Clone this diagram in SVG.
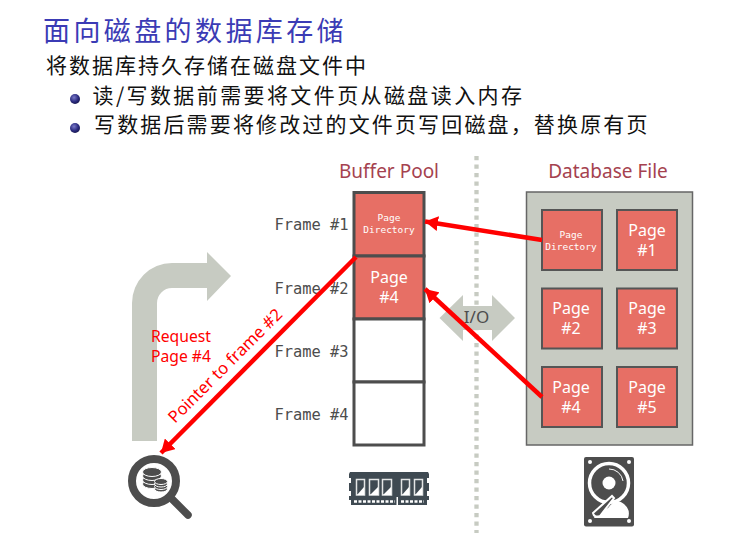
<svg xmlns="http://www.w3.org/2000/svg" width="749" height="543" viewBox="0 0 749 543">
<defs>
<style>
.cjk{font-family:"Noto Sans CJK SC",sans-serif;}
.head{font-family:"Noto Sans","Liberation Sans",sans-serif;font-size:19px;fill:#a5424f;text-anchor:middle;}
.frm{font-family:"DejaVu Sans Mono",monospace;font-size:15.400px;fill:#4d4d4d;}
.slot{fill:#fff;stroke:#4d4d4d;stroke-width:3;}
.hot{fill:#e76f65;}
.page{fill:#e76f65;stroke:#555;stroke-width:2;}
.big{font-family:"Noto Sans","Liberation Sans",sans-serif;font-size:16px;fill:#fff;text-anchor:middle;}
.small{font-family:"DejaVu Sans Mono",monospace;font-size:9.500px;fill:#fff;text-anchor:middle;}
.red{font-family:"Noto Sans","Liberation Sans",sans-serif;font-size:15.700px;fill:#f00;}
.wire{stroke:#f00;stroke-width:4.500;fill:none;}
.dk{fill:#4d4d4d;}
.coin{fill:#4d4d4d;stroke:#fff;stroke-width:1;}
.chip{fill:#3f4a52;stroke:#e4e6e6;stroke-width:1.500;}
</style>
<radialGradient id="ball" cx="0.4" cy="0.35" r="0.7">
<stop offset="0" stop-color="#7a7ac8"/><stop offset="0.6" stop-color="#2c2c80"/><stop offset="1" stop-color="#14144a"/>
</radialGradient>
<marker id="tip" viewBox="0 0 13 15" refX="13" refY="7.500" markerWidth="13" markerHeight="15" markerUnits="userSpaceOnUse" orient="auto">
<path d="M0 0L13 7.500L0 15Z" fill="#f00"/>
</marker>
</defs>
<rect width="749" height="543" fill="#fff"/>

<g id="heading">
<text class="cjk" x="43" y="41" font-size="27" letter-spacing="3.400" fill="#3b3bb5">面向磁盘的数据库存储</text>
<text class="cjk" x="46" y="73" font-size="21" letter-spacing="2" fill="#111">将数据库持久存储在磁盘文件中</text>
<circle cx="75" cy="99" r="5" fill="url(#ball)"/>
<text class="cjk" x="92.500" y="103" font-size="21" letter-spacing="2.400" fill="#111">读/写数据前需要将文件页从磁盘读入内存</text>
<circle cx="75" cy="128" r="5" fill="url(#ball)"/>
<text class="cjk" x="94" y="132" font-size="21" letter-spacing="2.150" fill="#111">写数据后需要将修改过的文件页写回磁盘，替换原有页</text>
</g>

<g id="divider"><line x1="476.500" y1="156" x2="476.500" y2="533" stroke="#c7cbc2" stroke-width="4.300" stroke-dasharray="4.300 4.200"/></g>

<g id="io">
<path d="M439.500 318L463 295V306H492V295L515 318L492 341V330H463V341Z" fill="#c7cbc2"/>
<text x="476.500" y="323" font-family="Noto Sans,sans-serif" font-size="17" fill="#4d4d4d" text-anchor="middle">I/O</text>
</g>

<g id="buffer-pool">
<text class="head" x="389" y="178">Buffer Pool</text>
<rect class="slot hot" x="354" y="192.500" width="70" height="63.500" style="fill:#e76f65"/>
<rect class="slot hot" x="354" y="256" width="70" height="63" style="fill:#e76f65"/>
<rect class="slot" x="354" y="319" width="70" height="63"/>
<rect class="slot" x="354" y="382" width="70" height="63"/>
<text class="small" x="389" y="221">Page</text>
<text class="small" x="389" y="233">Directory</text>
<text class="big" x="389" y="283">Page</text>
<text class="big" x="389" y="303">#4</text>
<text class="frm" x="274.500" y="230">Frame #1</text>
<text class="frm" x="274.500" y="294">Frame #2</text>
<text class="frm" x="274.500" y="357">Frame #3</text>
<text class="frm" x="274.500" y="420">Frame #4</text>
</g>

<g id="database-file">
<text class="head" x="608" y="178">Database File</text>
<rect x="526.500" y="192" width="166" height="253" fill="#c7cbc2" stroke="#666" stroke-width="1.500"/>
<rect class="page" x="542" y="210" width="60" height="60"/>
<rect class="page" x="617" y="210" width="60" height="60"/>
<rect class="page" x="542" y="288.500" width="60" height="60"/>
<rect class="page" x="617" y="288.500" width="60" height="60"/>
<rect class="page" x="542" y="367" width="60" height="60"/>
<rect class="page" x="617" y="367" width="60" height="60"/>
<text class="small" x="571" y="238">Page</text>
<text class="small" x="571" y="250">Directory</text>
<text class="big" x="647" y="236">Page</text><text class="big" x="647" y="256">#1</text>
<text class="big" x="571" y="314">Page</text><text class="big" x="571" y="334">#2</text>
<text class="big" x="647" y="314">Page</text><text class="big" x="647" y="334">#3</text>
<text class="big" x="571" y="393">Page</text><text class="big" x="571" y="413">#4</text>
<text class="big" x="647" y="393">Page</text><text class="big" x="647" y="413">#5</text>
</g>

<g id="request">
<path d="M132 441V303A40 40 0 0 1 172 263H207V252L231 276L207 301V288H172A15 15 0 0 0 157 303V441Z" fill="#c7cbc2"/>
<text class="red" x="151" y="342">Request</text>
<text class="red" x="151" y="362">Page #4</text>
</g>

<g id="connectors">
<line class="wire" x1="542" y1="240" x2="425" y2="221.500" marker-end="url(#tip)"/>
<line class="wire" x1="542" y1="397" x2="425" y2="289" marker-end="url(#tip)"/>
<line class="wire" x1="356" y1="257" x2="161" y2="453" marker-end="url(#tip)"/>
<text class="red" style="font-size:16.700px" transform="translate(175 424) rotate(-45)">Pointer to frame #2</text>
</g>

<g id="search-icon">
<circle cx="154" cy="481" r="22" fill="#fff" stroke="#4d4d4d" stroke-width="8"/>
<line x1="170" y1="497" x2="188" y2="515" stroke="#4d4d4d" stroke-width="7.500" stroke-linecap="round"/>
<ellipse class="coin" cx="152" cy="484" rx="9.500" ry="4.500"/>
<ellipse class="coin" cx="152" cy="480" rx="9.500" ry="4.500"/>
<ellipse class="coin" cx="152" cy="476" rx="9.500" ry="4.500"/>
<ellipse class="coin" cx="152" cy="472" rx="9.500" ry="4.500"/>
<ellipse class="coin" cx="161" cy="489" rx="6.500" ry="3"/>
<ellipse class="coin" cx="161" cy="486.500" rx="6.500" ry="3"/>
<ellipse class="coin" cx="161" cy="484" rx="6.500" ry="3"/>
<ellipse class="coin" cx="161" cy="481.500" rx="6.500" ry="3"/>
</g>

<g id="memory-icon">
<path d="M350 472H428L429 474V478H427V483H429V491H427V496H429V500H349V496H351V491H349V483H351V478H349V474Z" fill="#3f4a52"/>
<rect x="351" y="498" width="76" height="7" fill="#3f4a52"/>
<rect class="chip" x="356.500" y="479.500" width="8" height="15.500"/><path d="M357 495L364 495L364 487Z" fill="#fff"/>
<rect class="chip" x="369.500" y="479.500" width="9" height="15.500"/><path d="M370 495L378 495L378 487Z" fill="#fff"/>
<rect class="chip" x="382.500" y="479.500" width="9" height="15.500"/><path d="M383 495L391 495L391 487Z" fill="#fff"/>
<rect class="chip" x="401.500" y="479.500" width="8" height="15.500"/><path d="M402 495L409 495L409 487Z" fill="#fff"/>
<rect class="chip" x="414.500" y="479.500" width="8" height="15.500"/><path d="M415 495L422 495L422 487Z" fill="#fff"/>
<path d="M354 501.500H395" stroke="#fff" stroke-width="2.500" stroke-dasharray="3 1.500"/>
<path d="M401 501.500H424" stroke="#fff" stroke-width="2.500" stroke-dasharray="3 1.500"/>
<rect x="396.500" y="497" width="1.500" height="8" fill="#fff"/>
</g>

<g id="disk-icon">
<rect class="dk" x="584" y="457" width="50" height="69.500" rx="2"/>
<circle cx="609" cy="483" r="19.500" fill="none" stroke="#fff" stroke-width="3.500"/>
<path d="M609 469A14 14 0 0 1 623 481" fill="none" stroke="#fff" stroke-width="1"/>
<circle cx="609" cy="483" r="6.500" fill="#fff"/>
<path d="M594 518Q596 512 608 508Q616 497 624 504Q631 510 628 518Z" fill="#fff"/>
<path d="M593 513L612 496L614 498L600 516Q594 518 593 513Z" fill="#4d4d4d" stroke="#fff" stroke-width="2"/>
<circle cx="590" cy="462" r="2" fill="#fff"/><circle cx="629" cy="462" r="2" fill="#fff"/>
<circle cx="590" cy="521" r="2" fill="#fff"/><circle cx="629" cy="521" r="2" fill="#fff"/>
</g>
</svg>
